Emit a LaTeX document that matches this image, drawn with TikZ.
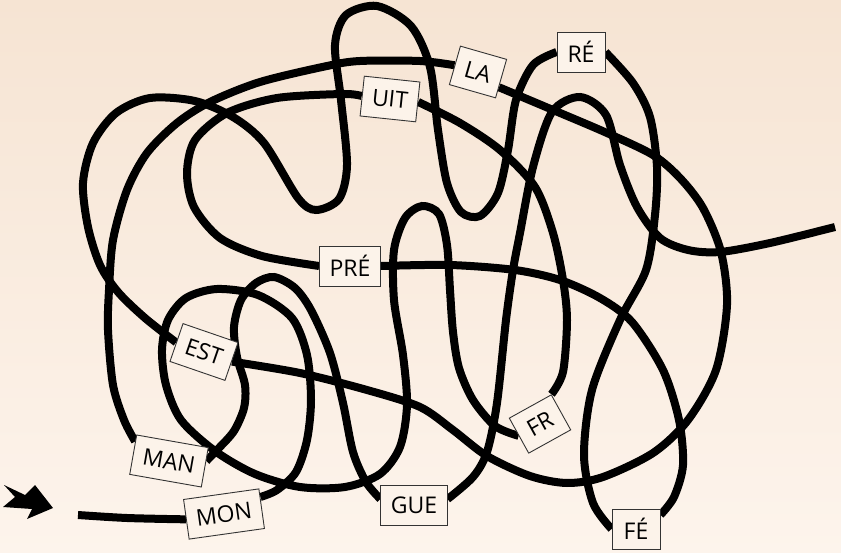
\documentclass[tikz,border=0pt]{standalone}
\usepackage{fontspec}
\setmainfont{Open Sans}
\usepackage{tikz}
\usetikzlibrary{calc}
\usepackage{xcolor}
\definecolor{tlogora}{RGB}{246, 228, 211}
\definecolor{tlodol}{RGB}{253, 244, 236}
\definecolor{kartka}{RGB}{252, 243, 234}
\pgfdeclarelayer{spod}
\pgfsetlayers{spod,main}

\begin{document}
\begin{tikzpicture}[x=1pt, y=-1pt,
    syl/.style={draw=black!80, line width=0.9pt, fill=kartka, inner xsep=10pt,
                minimum height=40pt, minimum width=48pt, font=\fontsize{23}{23}\selectfont},
    strand/.style={line width=8pt, black}]
                \useasboundingbox (0,0) rectangle (841,553);

                % --- Sylaby ---
                \node[syl, rotate=8] (mon) at (224,514) {MON};
                \node[syl, rotate=-10] (man) at (169,461) {MAN};
                \node[syl, rotate=-19] (est) at (204,352) {EST};
                \node[syl] (pre) at (350,266) {PRÉ};
                \node[syl, rotate=-6] (uit) at (390,99) {UIT};
                \node[syl, rotate=-16] (la) at (478,72) {LA};
                \node[syl] (re) at (581,52) {RÉ};
                \node[syl, rotate=29] (fr) at (540,424) {FR};
                \node[syl] (fe) at (636,529) {FÉ};
                \node[syl] (gue) at (414,505) {GUE};

                % Początek i koniec sznurka
                \coordinate (start) at (78,515);
                \coordinate (fin) at (835,227);

                % --- Strzałka na wejściu ---
                \fill (4,485) -- (25,495) -- (35,485) -- (53,508) -- (27,519) -- (32,509) -- (3,507) -- (15,497) -- cycle;

                \begin{pgfonlayer}{spod}
                % Tło
                \shade[top color=tlogora, bottom color=tlodol] (0,0) rectangle (841,553);

                % --- Sznurek (kawałki między sylabami) ---
                \draw[strand] plot[smooth] coordinates {(start) (127,518) (mon.west)};
                \draw[strand] plot[smooth] coordinates {(mon.17) (277,490) (296,472) (307,440) (311,400) (307,355) (292,318) (258,295) (217,289) (186,298) (168,320) (162,350) (166,385) (181,420) (215,451) (255,474) (300,487) (345,487) (380,474) (400,447) (407,405) (403,355) (394,300) (394,250) (405,218) (422,206) (439,214) (447,245) (450,290) (453,332) (459,368) (473,400) (495,426) (fr.west)};
                \draw[strand] plot[smooth] coordinates {(fr.north east) (563,372) (567,320) (563,280) (553,233) (535,187) (500,150) (460,123) (uit.east)};
                \draw[strand] plot[smooth] coordinates {(uit.west) (343,94) (277,98) (227,113) (195,140) (187,173) (194,207) (220,238) (262,256) (pre.west)};
                \draw[strand] plot[smooth] coordinates {(pre.east) (450,265) (515,270) (560,280) (600,298) (632,322) (663,370) (679,420) (683,465) (674,497) (fe.30)};
                \draw[strand] plot[smooth] coordinates {(fe.west) (593,503) (584,455) (592,390) (620,320) (646,270) (655,215) (657,167) (650,117) (633,83) (re.east)};
                \draw[strand] plot[smooth] coordinates {(re.west) (533,65) (516,100) (508,150) (498,193) (480,216) (461,212) (447,183) (438,130) (430,67) (411,26) (377,6) (346,15) (335,45) (341,100) (347,165) (339,199) (316,210) (298,198) (264,143) (233,117) (195,101) (150,98) (116,113) (93,143) (83,183) (88,227) (100,265) (118,292) (145,318) (est.west)};
                \draw[strand] plot[smooth] coordinates {(est.east) (300,373) (367,390) (420,407) (453,430) (487,456) (530,476) (567,483) (603,477) (653,453) (688,420) (716,370) (727,305) (721,252) (703,208) (680,178) (653,155) (607,133) (553,110) (la.-20)};
                \draw[strand] plot[smooth] coordinates {(la.west) (420,61) (360,61) (327,66) (260,82) (210,102) (177,123) (147,153) (127,190) (113,240) (109,290) (108,330) (113,385) (124,420) (man.160)};
                \draw[strand] plot[smooth] coordinates {(man.10) (218,449) (234,431) (244,408) (245,385) (237,357) (234,327) (241,300) (256,283) (274,277) (295,288) (311,310) (330,353) (343,403) (353,452) (366,482) (gue.170)};
                \draw[strand] plot[smooth] coordinates {(gue.10) (473,477) (487,452) (497,403) (506,320) (513,270) (520,233) (533,167) (552,112) (580,97) (606,115) (620,165) (637,207) (660,238) (688,250) (720,252) (770,243) (fin)};
                \end{pgfonlayer}
            \end{tikzpicture}
\end{document}
